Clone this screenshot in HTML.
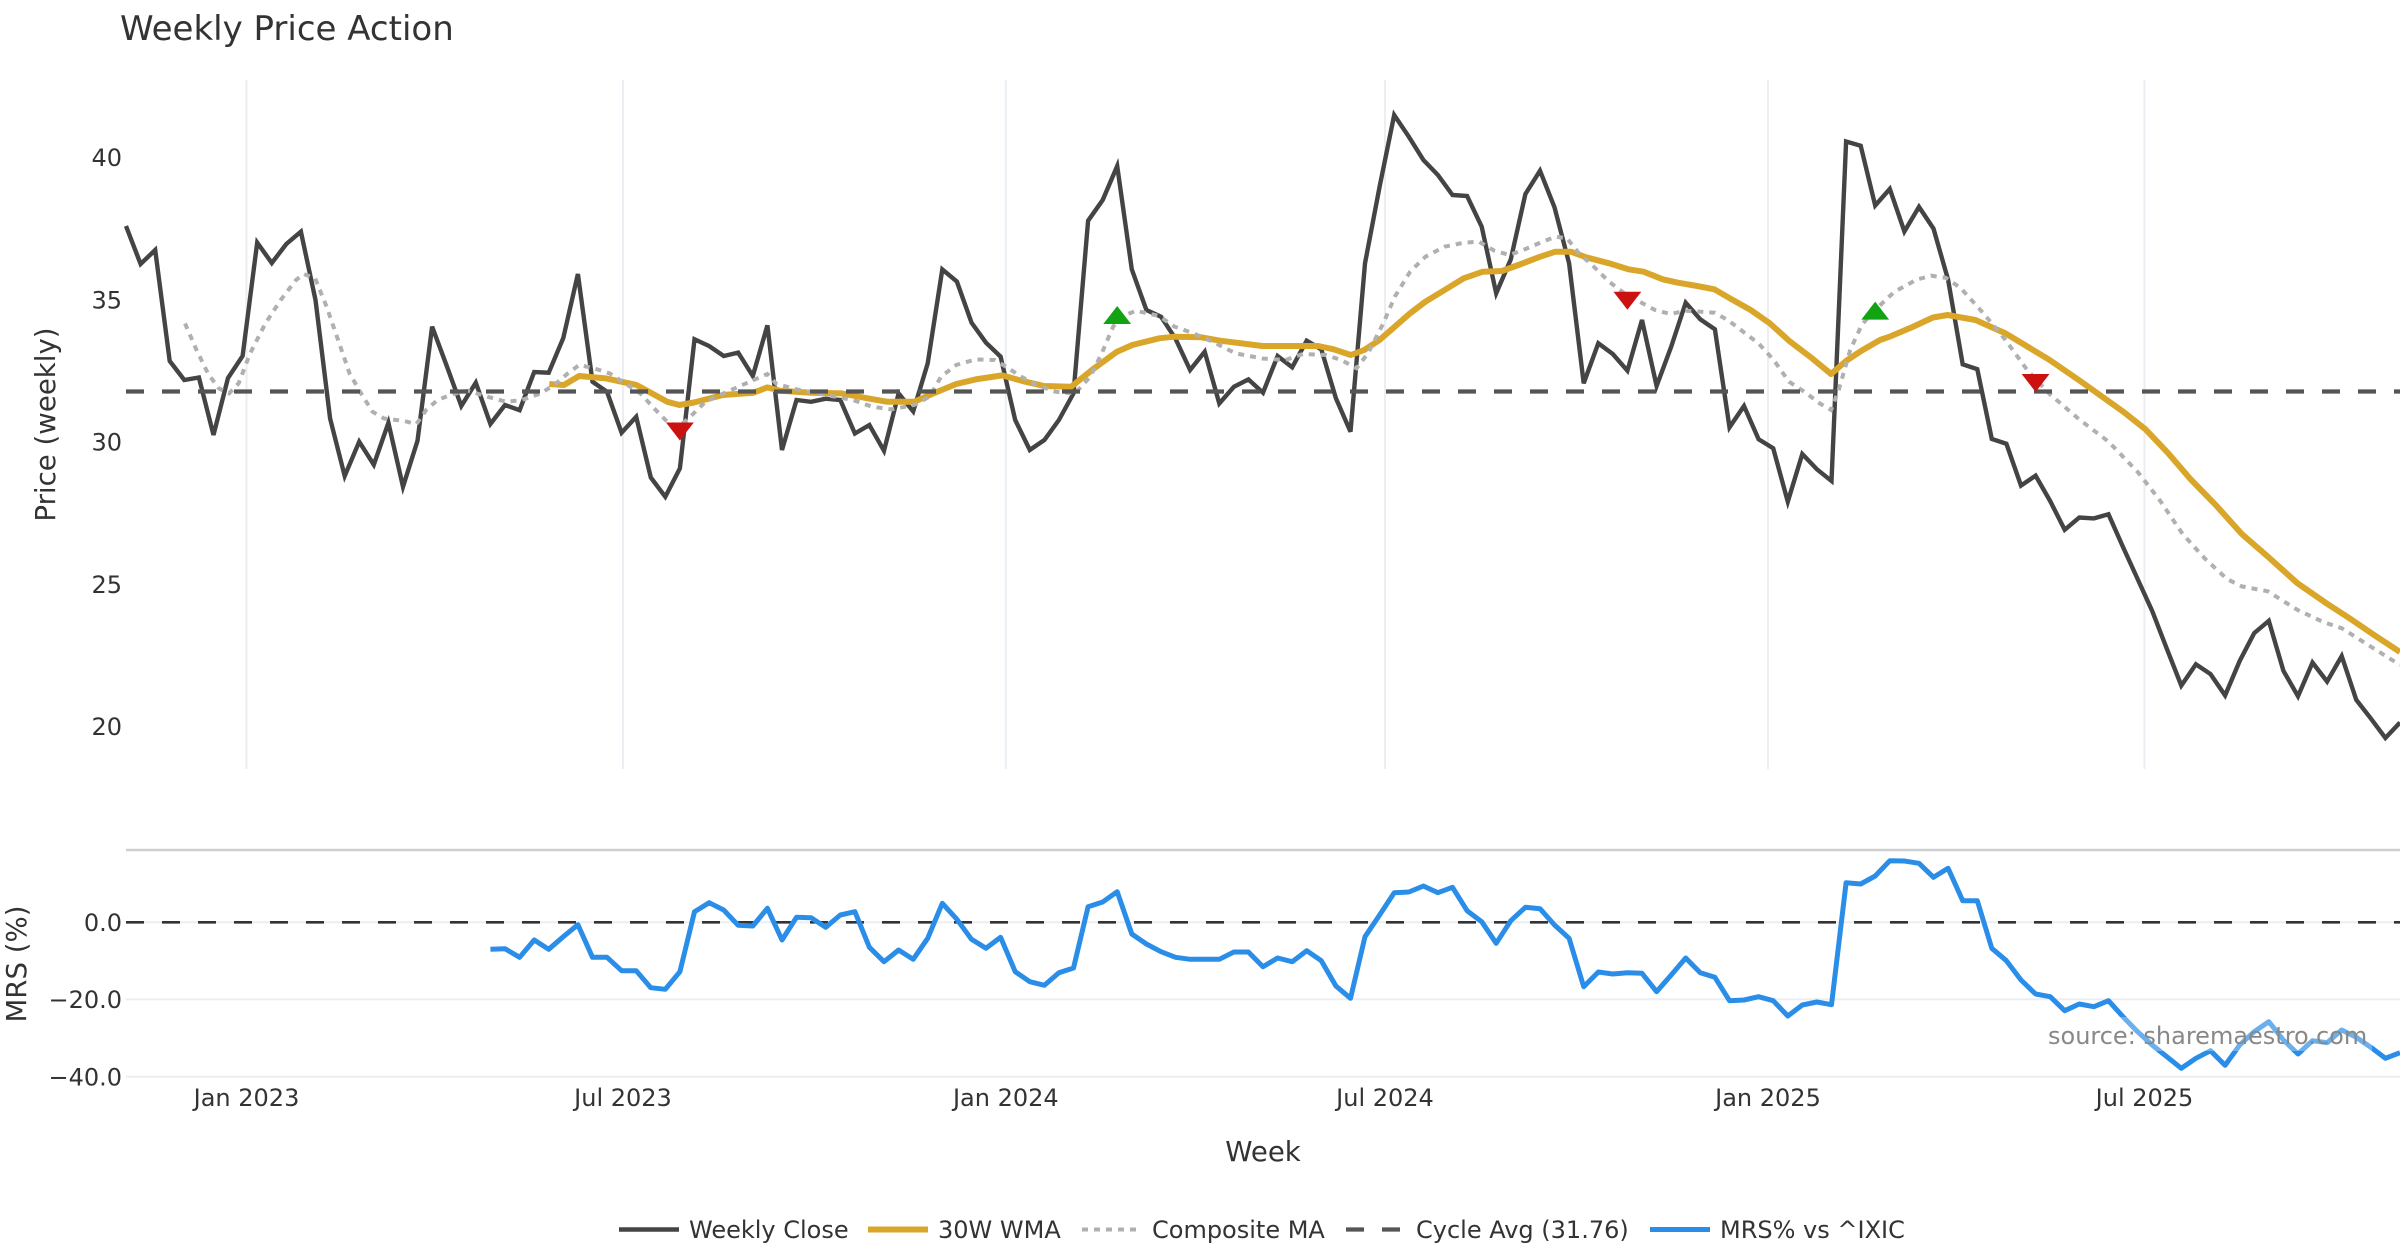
<!DOCTYPE html>
<html>
<head>
<meta charset="utf-8">
<style>
html,body{margin:0;padding:0;background:#fff;}
svg{display:block;}
text{font-family:"DejaVu Sans","Liberation Sans",sans-serif;}
</style>
</head>
<body>
<svg width="2400" height="1260" viewBox="0 0 2400 1260" xmlns="http://www.w3.org/2000/svg">
<rect x="0" y="0" width="2400" height="1260" fill="#fff"/>

<!-- Title -->
<text x="120" y="40" font-size="34" fill="#333">Weekly Price Action</text>

<!-- Price panel vertical gridlines -->
<g stroke="#ebeef3" stroke-width="2">
<line x1="246.5" y1="80" x2="246.5" y2="769"/>
<line x1="623" y1="80" x2="623" y2="769"/>
<line x1="1005.8" y1="80" x2="1005.8" y2="769"/>
<line x1="1385" y1="80" x2="1385" y2="769"/>
<line x1="1768" y1="80" x2="1768" y2="769"/>
<line x1="2144.5" y1="80" x2="2144.5" y2="769"/>
</g>

<!-- Price y tick labels -->
<g font-size="24" fill="#333" text-anchor="end">
<text x="122" y="166">40</text>
<text x="122" y="308.5">35</text>
<text x="122" y="450.7">30</text>
<text x="122" y="592.9">25</text>
<text x="122" y="735">20</text>
</g>

<text transform="translate(55,424.5) rotate(-90)" font-size="27.6" fill="#333" text-anchor="middle">Price (weekly)</text>

<!-- Weekly Close -->
<polyline fill="none" stroke="#444" stroke-width="4.4" stroke-linejoin="miter" points="126,226 140.6,264 155.2,250 169.7,361 184.3,380 198.9,377.5 213.5,435 228,378 242.6,356 257.2,242.6 271.8,263 286.3,244 300.9,231.7 315.5,300 330.1,418.5 344.7,476 359.2,441.7 373.8,464.7 388.4,422.8 403,486.7 417.5,440.8 432.1,326.6 446.7,365.8 461.3,406 475.8,382.7 490.4,424 505,405 519.6,410.2 534.2,372 548.7,372.7 563.3,338 577.9,274 592.5,381.7 607,391.8 621.6,432.7 636.2,416.8 650.8,477.5 665.3,496.8 679.9,468.4 694.5,339.3 709.1,346 723.7,356 738.2,352.6 752.8,376 767.4,325.4 782,450 796.5,400 811.1,401.8 825.7,398.7 840.3,400 854.9,433.5 869.4,425 884,450.8 898.6,393.4 913.2,411.4 927.7,363.4 942.3,269.4 956.9,281.6 971.5,322.6 986,342.7 1000.6,356.6 1015.2,420 1029.8,450 1044.4,440 1058.9,420 1073.5,393.4 1088.1,220.7 1102.7,200 1117.2,166 1131.8,269.4 1146.4,310 1161,316.7 1175.5,338.7 1190.1,370 1204.7,351.7 1219.3,403.5 1233.9,386.8 1248.4,379.4 1263,392.7 1277.6,356 1292.2,367.3 1306.7,340.7 1321.3,349.3 1335.9,398.3 1350.5,431.7 1365,263.3 1379.6,186.7 1394.2,115 1408.8,136.7 1423.4,160 1437.9,175 1452.5,195 1467.1,196 1481.7,226.7 1496.2,293.3 1510.8,259.3 1525.4,194 1540,170.7 1554.5,207.3 1569.1,263.3 1583.7,383.3 1598.3,343.3 1612.8,354 1627.4,370.7 1642,320 1656.6,386 1671.2,346.7 1685.7,302.7 1700.3,319.3 1714.9,329.3 1729.5,427.3 1744,406 1758.6,439.3 1773.2,448.3 1787.8,501.7 1802.3,454 1816.9,469.3 1831.5,481 1846.1,141.5 1860.7,145.7 1875.2,205.5 1889.8,188.9 1904.4,231.5 1919,206.9 1933.5,228.6 1948.1,279.8 1962.7,364.3 1977.3,369.2 1991.8,438.9 2006.4,443.8 2021,485.6 2035.6,475.7 2050.2,501.1 2064.7,529.8 2079.3,517.5 2093.9,518.4 2108.5,514.3 2123,547 2137.6,579 2152.2,611 2166.8,648.7 2181.3,685.6 2195.9,664.3 2210.5,674.1 2225.1,695.4 2239.7,661 2254.2,633.1 2268.8,620.8 2283.4,670.8 2298,696.2 2312.5,662.6 2327.1,681.5 2341.7,656.1 2356.3,699.9 2370.8,718.4 2385.4,738 2400,722.5"/>

<!-- 30W WMA -->
<polyline fill="none" stroke="#d9a62a" stroke-width="6" stroke-linejoin="round" points="549.3,384 563.9,385 579.2,376 594.5,377.4 606,378.4 621.3,381.7 636.6,385 651.9,393.4 667.2,401.8 679.4,405 694,402.5 722.9,395 753.5,392.7 767.3,387.4 780.3,390.8 811,392.7 841.5,393.4 868.3,398.4 887.4,401.8 914.2,401.8 933.4,393.4 956.3,384 975.5,379.4 1002.2,375.4 1025.2,381.7 1044.3,386 1071.1,386.8 1094,368.4 1117,351.7 1132.3,345 1159.2,338.3 1174.4,336.7 1201.2,337.3 1220.3,340.7 1262.4,346 1300,346 1318.3,346 1333.6,349.3 1350.8,355 1364.2,350 1379.5,340 1394.8,326.7 1410.1,313.3 1425.4,301.7 1444.6,290 1463.7,278.3 1482.8,271.7 1502,271 1521.1,264 1540.2,256.7 1555.5,251.7 1570.9,251.7 1586.2,257.3 1609.1,263.3 1628.3,269.3 1643.6,271.7 1662.7,279.3 1678,282.7 1697.1,286 1714.4,289.3 1731.6,299.3 1750.7,310 1769.8,323.3 1789,340.7 1812,358.3 1831.1,374 1846,361 1861,351 1880,340 1890.3,336.4 1912.5,327 1932.9,317.5 1947.7,315 1975.4,320 2005,333.1 2049.4,359.8 2079,380.2 2123.4,411.8 2145.6,429.4 2167.8,452.8 2190,478.6 2215.9,505.2 2241.8,534 2267.7,556.5 2297.3,583.1 2326.9,603.6 2349.1,618 2375,635.6 2400,652"/>

<!-- Composite MA -->
<polyline fill="none" stroke="#b0b0b0" stroke-width="4" stroke-dasharray="6,6" points="185,323.4 196.5,350 208,373.5 218.7,388.3 229.1,393.4 238.6,383.4 250.1,353.4 265.4,323.4 280.7,300 296,280 303.7,274 315.1,278.4 326.6,306.7 338.1,340 349.6,373.5 361.1,393.4 372.5,411.7 384,418.5 403.2,420.8 416.5,424 426.1,410 437.6,400 452.9,394 468.2,390.8 487.3,396.7 506.5,401.8 521.8,400 540.9,393.4 556.2,383.4 567.7,373.5 579.2,365 594.5,368.4 609.8,373.5 625.1,383.4 640.4,393.4 655.7,410 667.2,421.7 678.7,426.7 690.2,416.8 705.5,401.8 720,395 745.9,383.4 767.3,374 776.5,384 799.4,390 826.2,395 853,400 872.1,406.7 891.3,409.4 914.2,405 929.5,396.7 941,376.7 956.3,365 975.5,359.4 994.6,360 1006,366.7 1021.4,376.7 1036.7,385 1055.8,391.8 1075,393.4 1090.2,376.7 1101.7,353.4 1113.2,326.6 1120.9,316.8 1136.2,310.7 1159.1,316 1174.4,326.6 1193.6,333.4 1212.7,341.8 1235.7,353.4 1262.4,358.5 1285.4,360 1303,354 1326,355 1341.2,360 1356.5,368.3 1368,353.3 1383.3,323.3 1394.8,296.7 1410.1,271.7 1425.4,256.7 1444.6,246.7 1463.7,242.7 1479,241.7 1494.3,250.7 1509.6,255 1524.9,249.3 1540.2,242.7 1555.5,236.7 1567,238.3 1578.5,252.7 1593.8,266.7 1609.1,281.7 1624.4,293.3 1639.7,301.7 1655,310 1670.4,314 1685.7,310.7 1701,311.7 1714.4,312.7 1727.8,320 1743.1,331.7 1758.4,343.3 1773.7,360 1789,381.7 1804.3,391.7 1819.6,403.3 1831.1,410 1838.7,390 1850.2,350 1861.7,325 1873.2,311.7 1894,292.1 1916.2,279.8 1931,275.7 1945.8,277.8 1960.6,288 1982.8,312.6 2005,339.3 2027.2,370 2049.4,393.8 2079,419.2 2108.6,441.7 2138.2,472.5 2160.4,501.1 2182.6,534 2204.8,558.5 2227,579 2241.8,586.4 2267.7,591.3 2297.3,609.8 2323.2,622 2341.7,628.2 2367.6,644.6 2400,665"/>

<!-- Cycle Avg -->
<line x1="126" y1="391.5" x2="2400" y2="391.5" stroke="#555" stroke-width="4.2" stroke-dasharray="18,18"/>

<!-- Signal markers -->
<g fill="#cc1111">
<path d="M666.0,422.5 H693.8 L679.9,440.5 Z"/>
<path d="M1613.5,291.7 H1641.3 L1627.4,309.7 Z"/>
<path d="M2021.7,374 H2049.5 L2035.6,392 Z"/>
</g>
<g fill="#12a312">
<path d="M1103.3,324 H1131.1 L1117.2,306 Z"/>
<path d="M1861.3,319.6 H1889.1 L1875.2,301.6 Z"/>
</g>

<!-- MRS panel -->
<line x1="126" y1="850" x2="2400" y2="850" stroke="#cfcfcf" stroke-width="2.5"/>
<g stroke="#ebeef3" stroke-width="2">
<line x1="126" y1="922.3" x2="2400" y2="922.3"/>
<line x1="126" y1="999.3" x2="2400" y2="999.3"/>
<line x1="126" y1="1076.7" x2="2400" y2="1076.7"/>
</g>
<line x1="126" y1="922.3" x2="2400" y2="922.3" stroke="#333" stroke-width="2.6" stroke-dasharray="18,18"/>

<g font-size="24" fill="#333" text-anchor="end">
<text x="122" y="931">0.0</text>
<text x="122" y="1008">−20.0</text>
<text x="122" y="1085.4">−40.0</text>
</g>
<text transform="translate(26,964) rotate(-90)" font-size="27.6" fill="#333" text-anchor="middle">MRS (%)</text>

<polyline fill="none" stroke="#2a8ee8" stroke-width="5" stroke-linejoin="round" points="490.4,949.3 505,948.7 519.6,957.3 534.2,940 548.7,949.3 563.3,936.7 577.9,924.7 592.5,957.3 607,957.3 621.6,970.7 636.2,970.7 650.8,987.7 665.3,989.3 679.9,971.7 694.5,911.7 709.1,902.7 723.7,910 738.2,925.3 752.8,926 767.4,908.3 782,940 796.5,917.3 811.1,917.7 825.7,927.3 840.3,915 854.9,911.7 869.4,947.3 884,961.7 898.6,950 913.2,959.3 927.7,938.3 942.3,903.3 956.9,919.3 971.5,939.3 986,948.3 1000.6,937.3 1015.2,971.7 1029.8,981.7 1044.4,985.3 1058.9,972.7 1073.5,968 1088.1,906.7 1102.7,902 1117.2,891.7 1131.8,934 1146.4,944 1161,951.7 1175.5,957.3 1190.1,959.3 1204.7,959.3 1219.3,959.3 1233.9,952 1248.4,952 1263,966.7 1277.6,958 1292.2,961.7 1306.7,950.7 1321.3,960.7 1335.9,986 1350.5,998.3 1365,936.7 1379.6,915 1394.2,892.7 1408.8,892 1423.4,886 1437.9,892.7 1452.5,887.3 1467.1,910.7 1481.7,921.7 1496.2,943.3 1510.8,920.7 1525.4,907.3 1540,908.7 1554.5,925 1569.1,938.3 1583.7,986.7 1598.3,972 1612.8,974 1627.4,972.7 1642,973.3 1656.6,991.7 1671.2,975 1685.7,958 1700.3,972.7 1714.9,977.3 1729.5,1000.7 1744,1000 1758.6,996.7 1773.2,1000.7 1787.8,1016 1802.3,1005 1816.9,1002 1831.5,1004.7 1846.1,882.7 1860.7,884 1875.2,876 1889.8,860.7 1904.4,861 1919,863.3 1933.5,877.3 1948.1,868.3 1962.7,900.7 1977.3,900.7 1991.8,948.3 2006.4,960.7 2021,980 2035.6,994 2050.2,996.7 2064.7,1010.7 2079.3,1004 2093.9,1006.7 2108.5,1000.7 2123,1016.7 2137.6,1031.7 2152.2,1045 2166.8,1056.7 2181.3,1068.3 2195.9,1058.3 2210.5,1050.7 2225.1,1065.3 2239.7,1045 2254.2,1031.7 2268.8,1021.7 2283.4,1040 2298,1054 2312.5,1040.7 2327.1,1042.7 2341.7,1030 2356.3,1037.3 2370.8,1047.3 2385.4,1058.3 2400,1052.7"/>

<!-- source annotation -->
<rect x="2042" y="1017" width="330" height="34" fill="#fff" fill-opacity="0.3"/>
<text x="2048" y="1044" font-size="24" fill="#888">source: sharemaestro.com</text>

<!-- X tick labels -->
<g font-size="24" fill="#333" text-anchor="middle">
<text x="246.5" y="1106">Jan 2023</text>
<text x="623" y="1106">Jul 2023</text>
<text x="1005.8" y="1106">Jan 2024</text>
<text x="1385" y="1106">Jul 2024</text>
<text x="1768" y="1106">Jan 2025</text>
<text x="2144.5" y="1106">Jul 2025</text>
</g>
<text x="1263" y="1161" font-size="27.6" fill="#333" text-anchor="middle">Week</text>

<!-- Legend -->
<g font-size="24" fill="#333">
<line x1="619" y1="1229.5" x2="679" y2="1229.5" stroke="#444" stroke-width="4.4"/>
<text x="689" y="1238">Weekly Close</text>
<line x1="868" y1="1229.5" x2="928" y2="1229.5" stroke="#d9a62a" stroke-width="6"/>
<text x="938" y="1238">30W WMA</text>
<line x1="1082" y1="1229.5" x2="1142" y2="1229.5" stroke="#b0b0b0" stroke-width="4" stroke-dasharray="6,6"/>
<text x="1152" y="1238">Composite MA</text>
<line x1="1346" y1="1229.5" x2="1406" y2="1229.5" stroke="#555" stroke-width="4.2" stroke-dasharray="18,18"/>
<text x="1416" y="1238">Cycle Avg (31.76)</text>
<line x1="1650" y1="1229.5" x2="1710" y2="1229.5" stroke="#2a8ee8" stroke-width="5"/>
<text x="1720" y="1238">MRS% vs ^IXIC</text>
</g>
</svg>
</body>
</html>
